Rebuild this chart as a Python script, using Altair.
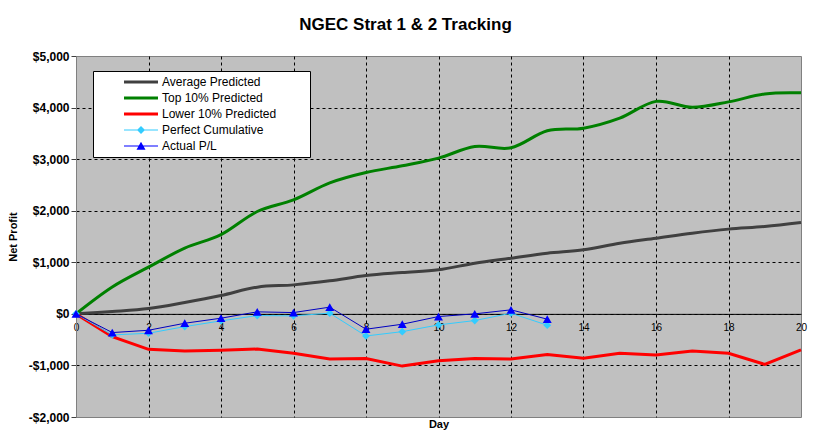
import altair as alt
import pandas as pd

FONT = "Liberation Sans"

# ---- data ----
days = list(range(21))
average_predicted = [0, 45, 103, 220, 355, 518, 562, 640, 743, 801, 854, 983,
                     1080, 1177, 1242, 1371, 1468, 1565, 1643, 1694, 1771]
top_predicted = [0, 520, 905, 1275, 1535, 1985, 2210, 2540, 2741, 2871, 3020,
                 3245, 3220, 3550, 3600, 3795, 4120, 4005, 4110, 4265, 4285]
lower_predicted = [0, -442, -688, -721, -708, -682, -766, -873, -864, -1013,
                   -910, -864, -877, -786, -860, -764, -797, -720, -764, -980, -700]
tracked_days = list(range(14))
perfect_cumulative = [0, -409, -376, -247, -136, -33, -39, 13, -429, -345,
                      -214, -130, 13, -220]
actual_pl = [0, -363, -318, -182, -84, 39, 25, 130, -298, -201, -52, 0, 78, -103]

series_names = ["Average Predicted", "Top 10% Predicted", "Lower 10% Predicted",
                "Perfect Cumulative", "Actual P/L"]
series_colors = ["#404040", "#008000", "#FF0000", "#33CCFF", "#0000FF"]

rows = []
for d, v in zip(days, average_predicted):
    rows.append({"day": d, "value": v, "series": series_names[0]})
for d, v in zip(days, top_predicted):
    rows.append({"day": d, "value": v, "series": series_names[1]})
for d, v in zip(days, lower_predicted):
    rows.append({"day": d, "value": v, "series": series_names[2]})
for d, v in zip(tracked_days, perfect_cumulative):
    rows.append({"day": d, "value": v, "series": series_names[3]})
for d, v in zip(tracked_days, actual_pl):
    rows.append({"day": d, "value": v, "series": series_names[4]})
df = pd.DataFrame(rows)

# legend glyphs (line, line + diamond, line + triangle); the trailing empty
# sub-path only widens the legend frame
pad_right = "M32.8,0L32.8,0.001Z"
thick = "M-3.4,-0.3H3.4V0.3H-3.4Z" + pad_right
thin_diamond = "M-3.4,-0.1H3.4V0.1H-3.4ZM0,-0.8L0.8,0L0,0.8L-0.8,0Z" + pad_right
thin_triangle = "M-3.4,-0.1H3.4V0.1H-3.4ZM0,-0.85L0.9,0.75L-0.9,0.75Z" + pad_right
legend_shapes = [thick, thick, thick, thin_diamond, thin_triangle]

x_scale = alt.Scale(domain=[0, 20], nice=False, zero=False)
y_scale = alt.Scale(domain=[-2000, 5000], nice=False, zero=False)

x_axis = alt.Axis(
    values=list(range(0, 21, 2)), offset=-103.14, tickSize=0, labelPadding=9,
    labelFont=FONT, labelFontSize=10, labelColor="black", labelAngle=0,
    labelFlush=False, labelOverlap=False,
    domainColor="black", domainWidth=1,
    grid=True, gridColor="black", gridDash=[3, 3], gridWidth=1,
    gridOpacity={"condition": {"test": "datum.value == 0 || datum.value == 20", "value": 0}, "value": 1},
    title="Day", titleFont=FONT, titleFontSize=11, titleFontWeight="bold",
    titleColor="black", titleY=114, titleBaseline="alphabetic",
)
y_axis = alt.Axis(
    values=list(range(-2000, 5001, 1000)),
    labelExpr="(datum.value < 0 ? '-$' : '$') + format(abs(datum.value), ',')",
    labelFont=FONT, labelFontSize=12, labelFontWeight="bold", labelColor="black",
    labelFlush=False, labelOverlap=False, labelPadding=2,
    tickSize=5, tickColor="#404040", domainColor="#808080",
    grid=True, gridColor="black", gridDash=[3, 3], gridWidth=1,
    gridOpacity={"condition": {"test": "datum.value == -2000 || datum.value == 5000", "value": 0}, "value": 1},
    title="Net Profit", titleFont=FONT, titleFontSize=11, titleFontWeight="bold",
    titleColor="black", titleX=-63, titleY=180.5, titleAngle=270,
    titleAlign="center", titleBaseline="middle",
)

base = alt.Chart(df)
X = alt.X("day:Q", scale=x_scale, axis=x_axis)
Y = alt.Y("value:Q", scale=y_scale, axis=y_axis)


def line_layer(name, color, width, interp):
    return base.transform_filter(alt.datum.series == name).mark_line(
        color=color, strokeWidth=width, interpolate=interp
    ).encode(x=X, y=Y)


avg_line = line_layer(series_names[0], "#404040", 3, "cardinal")
top_line = line_layer(series_names[1], "#008000", 3, "cardinal")
low_line = line_layer(series_names[2], "#FF0000", 3, "linear")
perf_line = line_layer(series_names[3], "#33CCFF", 1, "linear")
perf_pts = base.transform_filter(alt.datum.series == series_names[3]).mark_point(
    shape="diamond", filled=True, size=60, color="#33CCFF", opacity=1
).encode(x=X, y=Y)
act_line = line_layer(series_names[4], "#0000C0", 1, "linear")
act_pts = base.transform_filter(alt.datum.series == series_names[4]).mark_point(
    shape="triangle-up", filled=True, size=80, color="#0000FF", opacity=1
).encode(x=X, y=Y)

legend = alt.Legend(
    orient="none", legendX=17, legendY=15, title=None,
    fillColor="white", strokeColor="black", padding=5,
    labelFont=FONT, labelFontSize=12, labelColor="black",
    symbolSize=100, symbolStrokeWidth=0, symbolOpacity=1,
    symbolOffset=37, labelOffset=15, rowPadding=4,
)
legend_layer = base.transform_filter("false").mark_point(filled=True, opacity=1).encode(
    x=X, y=Y,
    color=alt.Color("series:N", scale=alt.Scale(domain=series_names, range=series_colors), legend=legend),
    shape=alt.Shape("series:N", scale=alt.Scale(domain=series_names, range=legend_shapes), legend=legend),
)

chart = alt.layer(
    avg_line, top_line, low_line, perf_line, perf_pts, act_line, act_pts, legend_layer
).properties(
    width=725, height=361,
    title=alt.Title("NGEC Strat 1 & 2 Tracking", font=FONT, fontSize=17,
                    fontWeight="bold", color="black", anchor="middle",
                    dx=-33, dy=17, offset=20, baseline="alphabetic"),
    padding={"left": 68, "top": 48, "right": 7, "bottom": 14},
    autosize=alt.AutoSizeParams(type="none"),
).configure(font=FONT, background="white").configure_view(
    fill="#C0C0C0", stroke="#808080", strokeWidth=1
)

chart.save("out.html", embed_options={"renderer": "svg", "actions": False})
